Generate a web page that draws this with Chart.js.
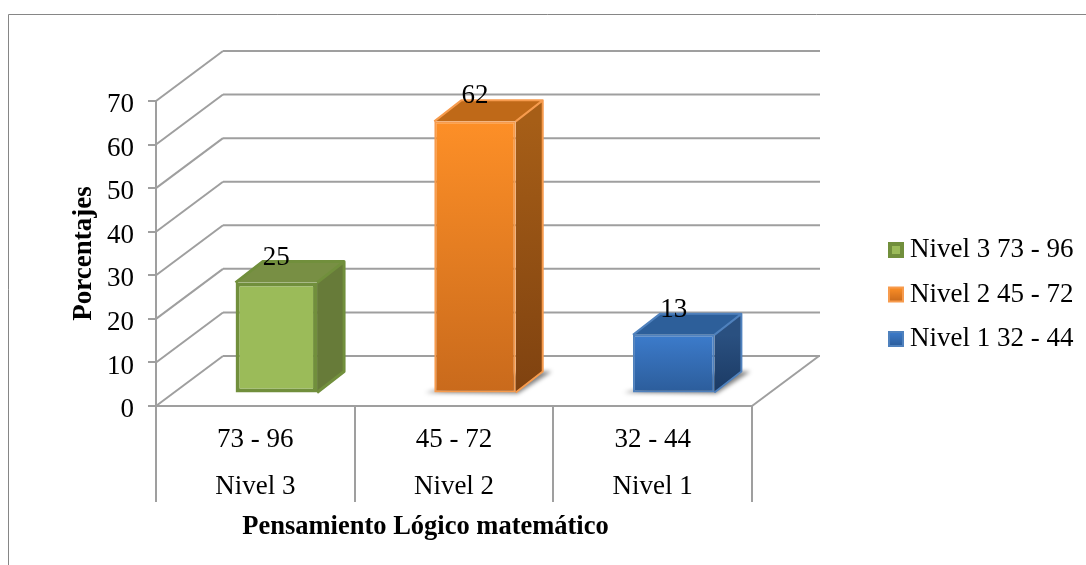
<!DOCTYPE html>
<html>
<head>
<meta charset="utf-8">
<style>
  html, body { margin: 0; padding: 0; background: #fff; }
  canvas { display: block; }
</style>
<script src="https://cdn.jsdelivr.net/npm/chart.js@4"></script>
</head>
<body>
<canvas id="chart" width="1086" height="565"></canvas>
<script>
const rangos = ["73 - 96", "45 - 72", "32 - 44"]
const niveles = ["Nivel 3", "Nivel 2", "Nivel 1"]
const porcentajes = [25, 62, 13]
const yTicks = [0, 10, 20, 30, 40, 50, 60, 70]

const FONT = "'Liberation Serif', 'Times New Roman', serif"
const GRID = "#9f9f9f"
const SIZE = 27

// colores de cada barra: frente (arriba, abajo), lado (arriba, abajo), tapa, borde
const colores = [
  { f1: "#9bbb59", f2: "#9bbb59", s1: "#677b39", s2: "#677b39", top: "#788f44", line: "#718f3c", w: 4, sombra: false },
  { f1: "#fd8f27", f2: "#c96a1c", s1: "#a65e17", s2: "#7f4210", top: "#bf6918", line: "#f79b4d", w: 2, sombra: true },
  { f1: "#3c7bcb", f2: "#2c5d9b", s1: "#2a5080", s2: "#1b3a64", top: "#2d5f9a", line: "#4f81bd", w: 2, sombra: true },
]

// profundidad de las paredes y de las barras
const wall = { dx: 67, dy: -50 }
const front = { dx: 21, dy: -14 }
const depth = { dx: 27, dy: -21 }

function icono(c) {
  const cv = document.createElement("canvas")
  cv.width = 18
  cv.height = 18
  const g = cv.getContext("2d")
  const grad = g.createLinearGradient(0, 2, 0, 16)
  grad.addColorStop(0, c.f1)
  grad.addColorStop(1, c.f2)
  g.fillStyle = grad
  g.fillRect(1, 1, 16, 16)
  g.strokeStyle = c.line
  g.lineWidth = c.w
  g.strokeRect(1 + c.w / 2, 1 + c.w / 2, 16 - c.w, 16 - c.w)
  return cv
}

function poly(ctx, pts, fill) {
  ctx.beginPath()
  pts.forEach((p, i) => (i ? ctx.lineTo(p[0], p[1]) : ctx.moveTo(p[0], p[1])))
  ctx.closePath()
  ctx.fillStyle = fill
  ctx.fill()
}

function seg(ctx, x1, y1, x2, y2) {
  ctx.beginPath()
  ctx.moveTo(x1, y1)
  ctx.lineTo(x2, y2)
  ctx.stroke()
}

const caja3d = {
  id: "caja3d",
  afterLayout(chart) {
    chart.legend.left = 878
    chart.legend.right = 1086
    chart.legend.top = 219
    chart.legend.bottom = 500
  },
  afterDatasetsUpdate(chart) {
    chart.getDatasetMeta(0).data.forEach((bar) => {
      bar.x += front.dx
      bar.y += front.dy - 0.5
      bar.base += front.dy + 1.5
    })
  },
  beforeDraw(chart) {
    const ctx = chart.ctx
    ctx.save()
    ctx.strokeStyle = "#868686"
    ctx.lineWidth = 1
    seg(ctx, 8.5, 565, 8.5, 14.5)
    seg(ctx, 8.5, 14.5, 1086, 14.5)
    ctx.restore()
  },
  beforeDatasetsDraw(chart) {
    const ctx = chart.ctx
    const { left, right } = chart.chartArea
    const y = chart.scales.y
    ctx.save()
    ctx.strokeStyle = GRID
    ctx.lineWidth = 2
    yTicks.forEach((v) => {
      const py = y.getPixelForValue(v)
      seg(ctx, left, py, left + wall.dx, py + wall.dy)
      seg(ctx, left + wall.dx, py + wall.dy, right + wall.dx + 1, py + wall.dy)
    })
    const y0 = y.getPixelForValue(0)
    seg(ctx, right, y0, right + wall.dx, y0 + wall.dy)

    chart.getDatasetMeta(0).data.forEach((bar, i) => {
      const c = colores[i]
      const x1 = bar.x - bar.width / 2
      const x2 = bar.x + bar.width / 2
      if (c.sombra) {
        ctx.save()
        ctx.filter = "blur(2px)"
        poly(ctx, [[x1 - 9, bar.base], [x2 + 2, bar.base + 1], [x2 + depth.dx + 9, bar.base + depth.dy], [x2 + 10, bar.base + depth.dy]], "rgba(0,0,0,.5)")
        ctx.restore()
      }
      const side = ctx.createLinearGradient(0, bar.y, 0, bar.base)
      side.addColorStop(0, c.s1)
      side.addColorStop(1, c.s2)
      poly(ctx, [[x2, bar.y], [x2 + depth.dx, bar.y + depth.dy], [x2 + depth.dx, bar.base + depth.dy], [x2, bar.base]], side)
      poly(ctx, [[x1, bar.y], [x1 + depth.dx, bar.y + depth.dy], [x2 + depth.dx, bar.y + depth.dy], [x2, bar.y]], c.top)
      ctx.strokeStyle = c.line
      ctx.lineWidth = c.w === 4 ? 3 : 2
      ctx.lineJoin = "round"
      ctx.beginPath()
      ctx.moveTo(x1, bar.y)
      ctx.lineTo(x1 + depth.dx, bar.y + depth.dy)
      ctx.lineTo(x2 + depth.dx, bar.y + depth.dy)
      ctx.lineTo(x2 + depth.dx, bar.base + depth.dy)
      ctx.lineTo(x2, bar.base)
      ctx.moveTo(x2, bar.y)
      ctx.lineTo(x2 + depth.dx, bar.y + depth.dy)
      ctx.stroke()
    })
    ctx.restore()
  },
  afterDatasetsDraw(chart) {
    const ctx = chart.ctx
    ctx.save()
    ctx.fillStyle = "#000"
    ctx.font = SIZE + "px " + FONT
    ctx.textAlign = "center"
    ctx.textBaseline = "middle"
    chart.getDatasetMeta(0).data.forEach((bar, i) => {
      ctx.fillText(String(porcentajes[i]), bar.x, bar.y - 25)
    })
    ctx.font = "bold 26.5px " + FONT
    ctx.fillText("Pensamiento Lógico matemático", chart.chartArea.left + 269.5, 527)
    ctx.restore()
  },
}

new Chart(document.getElementById("chart"), {
  type: "bar",
  data: {
    labels: rangos.map((r, i) => [r, niveles[i]]),
    datasets: [
      {
        data: porcentajes,
        barPercentage: 0.41,
        categoryPercentage: 1,
        borderSkipped: false,
        borderWidth: (c) => colores[c.dataIndex]?.w ?? 2,
        borderColor: (c) => colores[c.dataIndex]?.line ?? GRID,
        backgroundColor: (c) => {
          const col = colores[c.dataIndex]
          if (!col) return GRID
          const y = c.chart.scales.y
          const g = c.chart.ctx.createLinearGradient(0, y.getPixelForValue(c.raw) + front.dy, 0, y.getPixelForValue(0) + front.dy)
          g.addColorStop(0, col.f1)
          g.addColorStop(1, col.f2)
          return g
        },
      },
    ],
  },
  options: {
    responsive: false,
    animation: false,
    layout: { padding: { left: 68, right: 334, top: 101, bottom: 0 } },
    scales: {
      x: {
        afterFit: (s) => { s.height = 159 },
        border: { color: GRID, width: 2 },
        grid: { offset: true, drawOnChartArea: false, color: GRID, lineWidth: 2, tickLength: 96 },
        ticks: {
          color: "#000",
          maxRotation: 0,
          autoSkip: false,
          padding: -86,
          font: { family: FONT, size: SIZE, lineHeight: 1.74 },
        },
      },
      y: {
        min: 0,
        max: 70,
        afterFit: (s) => { s.width = 88 },
        afterBuildTicks: (s) => { s.ticks = yTicks.map((v) => ({ value: v })) },
        border: { color: GRID, width: 2 },
        grid: { drawOnChartArea: false, color: GRID, lineWidth: 2, tickLength: 8 },
        ticks: { color: "#000", padding: 14, labelOffset: 4, font: { family: FONT, size: SIZE } },
        title: {
          display: true,
          text: "Porcentajes",
          color: "#000",
          padding: 0,
          font: { family: FONT, size: SIZE, weight: "bold" },
        },
      },
    },
    plugins: {
      tooltip: { enabled: false },
      legend: {
        position: "chartArea",
        align: "start",
        labels: {
          color: "#000",
          usePointStyle: true,
          pointStyleWidth: 1,
          padding: 17.5,
          font: { family: FONT, size: SIZE },
          generateLabels: () =>
            niveles.map((n, i) => ({
              text: n + " " + rangos[i],
              pointStyle: icono(colores[i]),
              fontColor: "#000",
              index: i,
            })),
        },
      },
    },
  },
  plugins: [caja3d],
})
</script>
</body>
</html>
